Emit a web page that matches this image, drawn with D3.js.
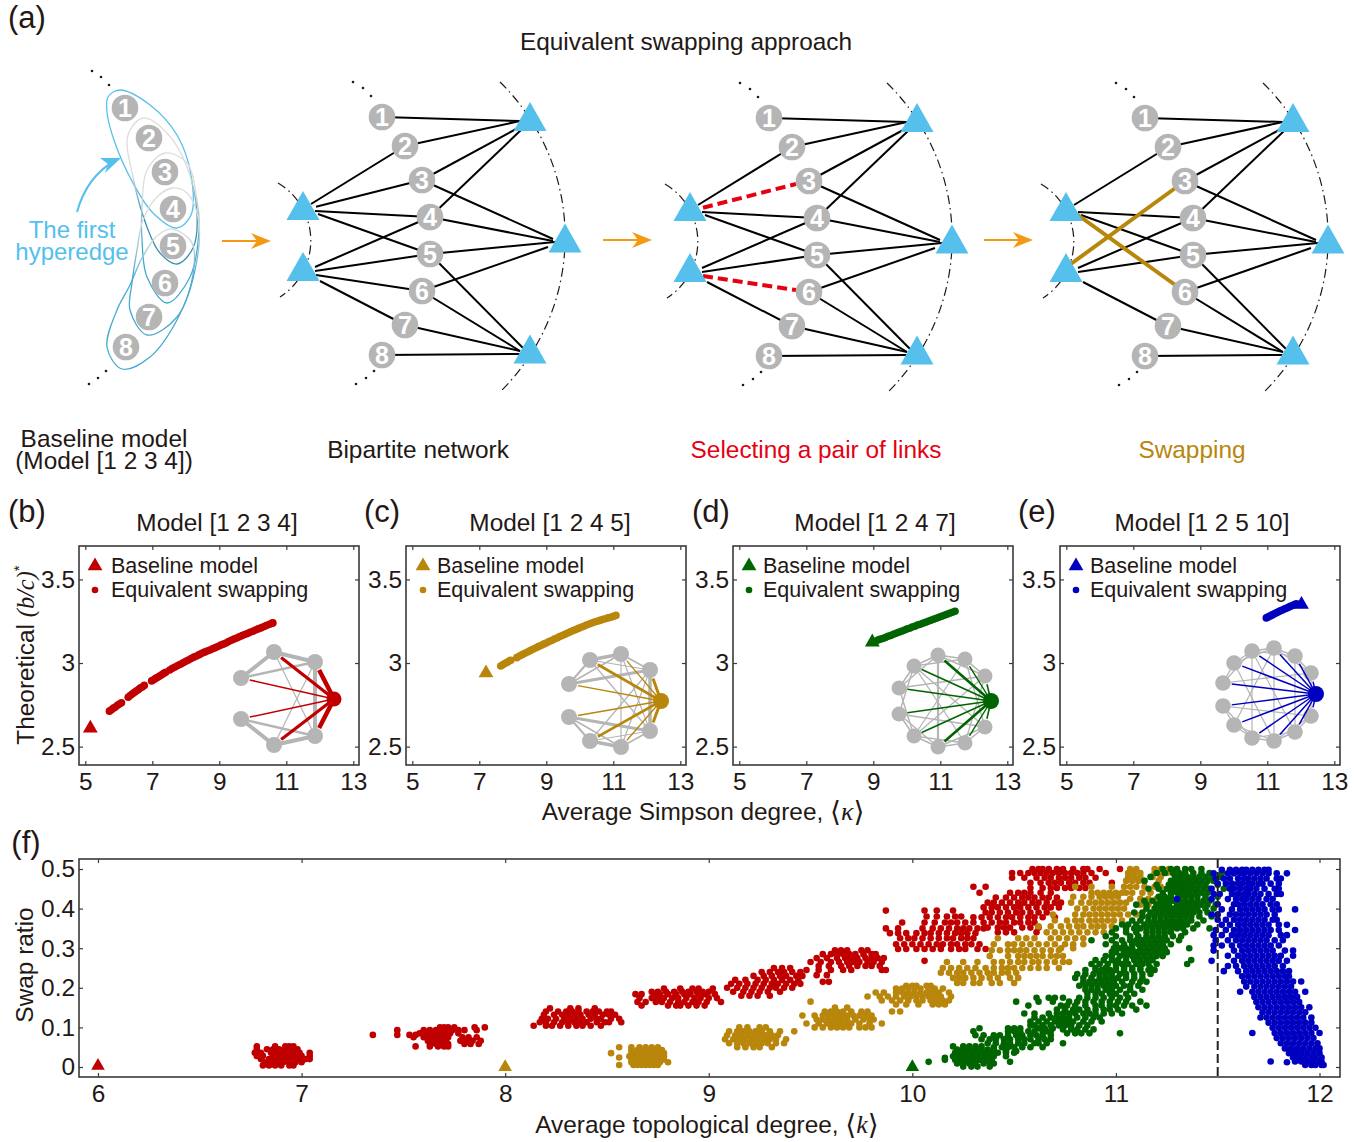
<!DOCTYPE html>
<html><head><meta charset="utf-8"><script src="https://cdn.jsdelivr.net/npm/d3@7"></script>
<style>html,body{margin:0;background:#fff}svg{display:block}text{font-family:"Liberation Sans",Arial,sans-serif;fill:#231815}</style></head><body><div id="c"></div>
<script>
// ---------- data ----------
const red="#c00000",gold="#b8860b",green="#006400",blue="#0000c0",sky="#55c0ec";
const panelTitles=["Model [1 2 3 4]","Model [1 2 4 5]","Model [1 2 4 7]","Model [1 2 5 10]"];
const panelLetters=["(b)","(c)","(d)","(e)"];
const xTicksKappa=[5,7,9,11,13];
const yTicksBc=[2.5,3,3.5];
const xTicksK=[6,7,8,9,10,11,12];
const yTicksSwap=[0,0.1,0.2,0.3,0.4,0.5];
const baselineKappa=[5.15,7.2,8.97,12.02];
const baselineBc=[2.61,2.94,3.125,3.35];
const baselineK=[6,8,10];
const baselineSwap=[0.003,0,0];
const bRed=[[5.72,2.712],[5.78,2.72],[5.84,2.73],[5.9,2.737],[5.96,2.747],[6.02,2.755],[6.08,2.762],[6.28,2.795],[6.34,2.805],[6.4,2.815],[6.46,2.823],[6.52,2.832],[6.58,2.84],[6.64,2.85],[6.7,2.857],[6.76,2.866],[6.98,2.893],[7.04,2.9],[7.1,2.908],[7.16,2.915],[7.22,2.922],[7.28,2.93],[7.34,2.938],[7.4,2.945],[7.52,2.958],[7.6,2.968],[7.68,2.976],[7.76,2.985],[7.84,2.993],[7.92,3.002],[8,3.01],[8.08,3.018],[8.16,3.027],[8.24,3.035],[8.32,3.042],[8.4,3.05],[8.48,3.058],[8.56,3.065],[8.64,3.072],[8.72,3.078],[8.8,3.085],[8.88,3.092],[8.96,3.099],[9.04,3.107],[9.12,3.113],[9.2,3.12],[9.28,3.128],[9.36,3.136],[9.44,3.143],[9.52,3.15],[9.6,3.157],[9.68,3.164],[9.76,3.171],[9.84,3.177],[9.92,3.184],[10,3.19],[10.08,3.197],[10.16,3.204],[10.24,3.21],[10.32,3.217],[10.4,3.224],[10.48,3.23],[10.56,3.237],[10.6,3.24]];
const bGold=[[7.64,2.982],[7.7,2.99],[7.76,2.997],[7.82,3.003],[7.88,3.01],[7.94,3.017],[8.12,3.032],[8.2,3.042],[8.28,3.05],[8.36,3.058],[8.44,3.066],[8.52,3.074],[8.6,3.082],[8.68,3.09],[8.76,3.098],[8.84,3.105],[8.92,3.113],[9,3.12],[9.08,3.128],[9.16,3.135],[9.24,3.143],[9.32,3.15],[9.4,3.158],[9.48,3.165],[9.56,3.172],[9.64,3.18],[9.72,3.187],[9.8,3.194],[9.88,3.2],[9.96,3.207],[10.04,3.214],[10.12,3.22],[10.2,3.227],[10.28,3.233],[10.36,3.239],[10.44,3.245],[10.52,3.25],[10.6,3.255],[10.68,3.26],[10.76,3.265],[10.84,3.27],[10.92,3.274],[11,3.279],[11.08,3.285]];
const bGreen=[[9.14,3.137],[9.2,3.142],[9.28,3.147],[9.36,3.153],[9.44,3.16],[9.52,3.165],[9.6,3.172],[9.68,3.178],[9.76,3.184],[9.84,3.19],[9.92,3.196],[10,3.203],[10.08,3.208],[10.16,3.215],[10.24,3.22],[10.32,3.227],[10.4,3.232],[10.48,3.238],[10.56,3.244],[10.64,3.25],[10.72,3.256],[10.8,3.262],[10.88,3.268],[10.96,3.274],[11.04,3.28],[11.12,3.286],[11.2,3.292],[11.28,3.298],[11.36,3.304],[11.44,3.31]];
const bBlue=[[10.97,3.27],[11.03,3.276],[11.09,3.282],[11.15,3.288],[11.21,3.294],[11.27,3.3],[11.33,3.306],[11.39,3.312],[11.45,3.317],[11.51,3.323],[11.57,3.328],[11.63,3.334],[11.69,3.339],[11.75,3.344],[11.81,3.35],[11.87,3.355]];
const kappaSeries=[bRed,bGold,bGreen,bBlue];
// swap-ratio clouds: each row is one ratio value and the average degrees read at it
const swapRed=[[.052,[6.78,6.87,6.92,6.94,6.96]],[.045,[6.78,6.83,6.86,6.89,6.92,6.95,6.98]],[.036,[6.77,6.8,6.85,6.88,6.91,6.93,6.96,6.99,7.04]],[.028,[6.78,6.81,6.86,6.89,6.92,6.95,6.97,7,7.04]],[.02,[6.8,6.84,6.87,6.9,6.93,6.96,6.99,7.02,7.04]],[.012,[6.82,6.85,6.88,6.91,6.94,6.97,7]],[.004,[6.81,6.84,6.87,6.9,6.94,6.96]],
[.1,[7.68,7.7,7.72,7.75,7.85,7.9]],[.093,[7.47,7.6,7.63,7.66,7.69,7.71,7.74,7.77,7.8,7.86]],[.085,[7.58,7.61,7.64,7.67,7.7,7.73,7.77]],[.081,[7.35,7.47,7.53,7.56]],[.075,[7.55,7.6,7.63,7.66,7.69,7.72,7.79,7.82,7.86]],[.066,[7.62,7.65,7.68,7.71,7.78,7.81,7.84,7.88]],[.058,[7.63,7.66,7.69,7.72,7.8,7.83,7.87]],[.052,[7.56,7.63,7.67,7.7,7.72]],
[.148,[8.22,8.32,8.36,8.44]],[.14,[8.2,8.26,8.3,8.33,8.36,8.4,8.43,8.46,8.5,8.52]],[.132,[8.19,8.24,8.28,8.31,8.34,8.37,8.41,8.44,8.48,8.51,8.54]],[.122,[8.18,8.21,8.25,8.29,8.32,8.35,8.38,8.42,8.45,8.47,8.52,8.56]],[.113,[8.17,8.2,8.24,8.28,8.31,8.34,8.37,8.4,8.45,8.49,8.51,8.57]],[.104,[8.14,8.2,8.23,8.27,8.31,8.35,8.38,8.42,8.47]],
[.198,[8.78,8.86,8.92,8.95,9.02]],[.19,[8.72,8.75,8.79,8.83,8.87,8.9,8.94,8.97,9]],[.184,[8.64,8.67,8.73,8.76,8.8,8.84,8.88,8.91,8.95,8.98,9.03]],[.174,[8.66,8.72,8.75,8.78,8.82,8.85,8.89,8.93,8.96,9,9.04]],[.164,[8.65,8.69,8.74,8.77,8.81,8.85,8.88,8.92,8.95,8.99,9.06]],[.155,[8.67,8.8,8.84,8.86,8.9,8.94,8.98]],
[.25,[9.32,9.36,9.4]],[.24,[9.26,9.3,9.34,9.37,9.41,9.45]],[.23,[9.22,9.27,9.31,9.35,9.38,9.43,9.46]],[.22,[9.13,9.18,9.24,9.28,9.32,9.36,9.4,9.44]],[.21,[9.11,9.15,9.19,9.23,9.27,9.31,9.34,9.38,9.42,9.45]],[.2,[9.09,9.14,9.18,9.22,9.26,9.3,9.33,9.37,9.41]],[.19,[9.12,9.17,9.21,9.25,9.29,9.35]],[.18,[9.16,9.2,9.24,9.3]],
[.295,[9.62,9.65,9.68,9.75,9.78]],[.285,[9.56,9.6,9.63,9.66,9.69,9.72,9.76,9.8,9.82]],[.275,[9.53,9.58,9.63,9.67,9.7,9.73,9.77,9.8,9.83,9.86]],[.265,[9.5,9.55,9.6,9.64,9.68,9.71,9.74,9.78,9.81,9.85]],[.255,[9.54,9.59,9.65,9.69,9.73,9.77,9.8,9.84]],[.245,[9.48,9.54,9.6,9.66,9.7,9.85,9.87]],[.232,[9.45,9.53,9.58]],[.215,[9.56,9.59]],
[.395,[9.87,10.06,10.12,10.2]],[.38,[10.07,10.12,10.17,10.21,10.24]],[.365,[9.95,10.06,10.11,10.16,10.19,10.22,10.26,10.3]],[.35,[9.87,9.93,10.05,10.1,10.14,10.18,10.22,10.25,10.28,10.32,10.35]],[.338,[9.89,9.93,9.97,10.02,10.06,10.09,10.13,10.17,10.21,10.24,10.27,10.31]],[.325,[9.94,9.98,10.01,10.05,10.09,10.13,10.17,10.2,10.24,10.27,10.3]],[.31,[9.92,9.96,10,10.04,10.08,10.12,10.15,10.19,10.22,10.26,10.29,10.33]],[.298,[9.93,9.97,10.02,10.06,10.1,10.14,10.19,10.23,10.26,10.32,10.36]],[.268,[10.06]],
[.455,[10.3,10.36]],[.44,[10.33,10.48,10.52,10.55,10.58,10.63,10.68]],[.428,[10.41,10.46,10.5,10.54,10.57,10.6,10.64,10.67,10.71]],[.415,[10.37,10.4,10.44,10.48,10.52,10.55,10.59,10.62,10.66,10.7,10.73]],[.403,[10.35,10.39,10.42,10.46,10.5,10.53,10.57,10.61,10.65,10.68,10.72]],[.39,[10.36,10.39,10.43,10.47,10.51,10.54,10.58,10.62,10.66]],[.378,[10.3,10.34,10.38,10.42,10.46,10.49,10.53,10.57,10.6,10.64,10.7]],[.365,[10.35,10.39,10.43,10.46,10.5,10.53,10.57,10.6]],[.352,[10.37,10.42,10.45,10.48,10.54,10.58,10.62]],[.34,[10.42,10.46,10.5,10.61]],
[.5,[10.59,10.62,10.64,10.67,10.71,10.74,10.79,10.84,10.86,10.92,11.02]],[.49,[10.49,10.53,10.57,10.6,10.63,10.66,10.69,10.72,10.75,10.78,10.81,10.84,10.88,10.95]],[.478,[10.49,10.55,10.61,10.65,10.68,10.72,10.75,10.78,10.82,10.85,10.9]],[.465,[10.58,10.63,10.67,10.7,10.73,10.77,10.8,10.84,10.87,10.98]],[.452,[10.58,10.64,10.68,10.71,10.75,10.78,10.82,10.85]]];
const swapGold=[[.05,[8.56,8.62,8.66,8.69,8.72,8.75]],[.043,[8.62,8.65,8.67,8.69,8.71,8.73,8.75,8.77]],[.035,[8.52,8.62,8.64,8.66,8.68,8.7,8.72,8.74,8.76,8.78]],[.027,[8.61,8.63,8.65,8.67,8.69,8.71,8.73,8.75,8.77,8.78]],[.024,[8.56]],[.019,[8.62,8.64,8.66,8.68,8.7,8.72,8.74,8.76,8.78]],[.012,[8.62,8.64,8.66,8.68,8.7,8.72,8.74,8.76,8.8]],[.005,[8.56,8.63,8.65,8.67,8.69,8.71,8.73,8.75]],
[.1,[9.15,9.19,9.25,9.28]],[.09,[9.1,9.14,9.17,9.2,9.23,9.26,9.3,9.35,9.42]],[.08,[9.09,9.13,9.16,9.19,9.22,9.25,9.28,9.31,9.34]],[.07,[9.08,9.12,9.15,9.18,9.21,9.24,9.27,9.3,9.33,9.38]],[.06,[9.1,9.14,9.17,9.2,9.23,9.26,9.29,9.33,9.37]],[.05,[9.14,9.18,9.22,9.25,9.31]],
[.165,[9.5]],[.15,[9.62,9.68]],[.14,[9.57,9.6,9.63,9.66,9.7,9.75,9.78]],[.13,[9.46,9.52,9.56,9.59,9.62,9.65,9.68,9.71,9.74,9.77,9.8]],[.12,[9.53,9.56,9.59,9.62,9.65,9.68,9.72,9.76,9.79,9.81]],[.11,[9.48,9.54,9.58,9.61,9.64,9.67,9.7,9.74,9.79,9.85]],[.1,[9.52,9.56,9.6,9.63,9.66,9.69,9.74,9.77,9.8]],
[.205,[9.97,10,10.02,10.07,10.09]],[.198,[9.92,9.95,9.98,10.01,10.04,10.08,10.11,10.15]],[.188,[9.82,9.86,9.92,9.95,9.98,10.01,10.04,10.07,10.1,10.13,10.18]],[.178,[9.78,9.84,9.88,9.92,9.96,9.99,10.02,10.05,10.08,10.11,10.14,10.19]],[.168,[9.85,9.9,9.94,9.98,10.02,10.05,10.09,10.12,10.15,10.18]],[.158,[9.92,9.97,10.03,10.1,10.13,10.16]],[.14,[9.9,9.94]],
[.325,[10.42,10.52,10.56,10.6]],[.31,[10.4,10.47,10.5,10.54,10.58,10.62,10.66]],[.295,[10.39,10.43,10.47,10.5,10.53,10.56,10.6,10.64,10.68,10.72]],[.28,[10.38,10.47,10.52,10.55,10.58,10.61,10.64,10.68,10.71,10.74]],[.265,[10.17,10.25,10.32,10.4,10.44,10.48,10.52,10.55,10.59,10.62,10.66,10.7,10.74,10.77]],[.25,[10.15,10.19,10.23,10.27,10.31,10.36,10.4,10.44,10.47,10.5,10.54,10.58,10.62,10.66,10.72]],[.238,[10.14,10.18,10.22,10.25,10.29,10.33,10.37,10.4,10.44,10.47,10.51]],[.225,[10.2,10.23,10.26,10.3,10.34,10.38,10.42,10.48,10.52]],[.212,[10.22,10.25,10.3,10.33,10.39,10.43,10.5]],
[.455,[10.8,10.88,10.98]],[.44,[10.88,10.91,10.94,10.97,11,11.03]],[.43,[10.79,10.84,10.88,10.92,10.95,10.98,11.01]],[.415,[10.78,10.83,10.87,10.9,10.93,10.96,10.99,11.02,11.05]],[.4,[10.81,10.85,10.89,10.92,10.95,10.98,11.01,11.04]],[.385,[10.69,10.8,10.84,10.87,10.9,10.93,10.96,10.99,11.02,11.06,11.1]],[.37,[10.7,10.76,10.8,10.83,10.87,10.9,10.93,10.96,10.99,11.03]],[.355,[10.62,10.68,10.73,10.77,10.81,10.84,10.88,10.91,10.94,10.98]],[.34,[10.66,10.7,10.74,10.78,10.82,10.86,10.9,10.94]],[.325,[10.68,10.72,10.76,10.8,10.84]],[.31,[10.7,10.75,10.79,10.84]],[.3,[10.73,10.79]],
[.5,[11.07,11.1,11.19,11.22,11.26,11.3]],[.49,[11.06,11.09,11.12,11.19,11.22,11.25,11.29]],[.48,[11.06,11.09,11.12,11.18,11.22]],[.47,[11.05,11.08,11.11,11.14,11.21]],[.455,[11.04,11.07,11.1,11.14,11.19,11.22]],[.44,[11.05,11.08,11.13,11.17]],[.425,[11.07,11.12,11.16,11.2]],[.41,[11.12,11.16,11.2,11.25]]];
const swapGreen=[[.013,[10.08,10.48]],[.023,[10.16]],[.052,[10.2,10.25,10.28,10.31,10.34]],[.044,[10.22,10.25,10.28,10.31,10.34,10.37,10.4]],[.036,[10.21,10.24,10.27,10.3,10.33,10.36,10.39,10.42,10.46,10.5]],[.027,[10.2,10.23,10.26,10.29,10.32,10.35,10.38,10.4,10.46]],[.018,[10.16,10.21,10.24,10.27,10.3,10.33,10.36,10.39]],[.009,[10.22,10.25,10.28,10.31,10.35,10.38,10.4]],[.001,[10.25,10.29,10.32,10.38]],
[.098,[10.33,10.47,10.5,10.53,10.62,10.65,10.69]],[.09,[10.3,10.47,10.5,10.53,10.57,10.6,10.64,10.66,10.68]],[.08,[10.31,10.35,10.4,10.43,10.47,10.51,10.54,10.58,10.61,10.64,10.68]],[.07,[10.34,10.38,10.41,10.45,10.48,10.52,10.55,10.58,10.62,10.65,10.68]],[.06,[10.37,10.41,10.45,10.48,10.52,10.55,10.6,10.62,10.66,10.74]],[.05,[10.4,10.44,10.47,10.5,10.54,10.58,10.64]],[.04,[10.46,10.51]],
[.175,[10.61,10.67,10.7,10.74,10.82,10.86,10.9,10.94,10.98,11.02,11.06]],[.165,[10.51,10.62,10.69,10.77,10.81,10.85,10.89,10.93,10.97,11.01,11.05,11.12]],[.155,[10.57,10.73,10.76,10.8,10.85,10.9,10.93,10.97,11,11.04,11.08,11.15]],[.145,[10.71,10.75,10.79,10.82,10.86,10.9,10.94,10.97,11.01,11.1]],[.135,[10.55,10.6,10.67,10.71,10.74,10.77,10.8,10.84,10.87,10.9,10.94,10.98,11.03]],[.125,[10.6,10.64,10.68,10.71,10.74,10.77,10.81,10.85,10.89,10.92]],[.115,[10.58,10.62,10.66,10.7,10.73,10.76,10.79,10.84,10.88,10.93]],[.105,[10.58,10.6,10.64,10.68,10.72,10.75,10.78,10.82,10.86]],[.095,[10.74,10.78,10.81,10.85,10.89]],[.085,[10.76,10.8,10.83,10.87,11.02]],
[.245,[10.85,10.9,10.93,10.97,11,11.04,11.08,11.12,11.16,11.19]],[.235,[10.81,10.85,10.89,10.92,10.95,10.98,11.02,11.05,11.09,11.13,11.17]],[.225,[10.8,10.84,10.88,10.92,10.95,10.98,11.01,11.05,11.09,11.13]],[.215,[10.84,10.87,10.9,10.93,10.96,10.99,11.03,11.08,11.12,11.15]],[.205,[10.82,10.85,10.88,10.91,10.94,10.97,11,11.04,11.07,11.11]],[.195,[10.85,10.88,10.91,10.95,10.98,11.02,11.07,11.13]],[.185,[10.86,10.9,10.93,10.97,11,11.05,11.09]],
[.34,[10.98,11.05,11.1,11.15,11.18,11.21,11.24,11.27,11.34]],[.33,[10.95,11,11.07,11.11,11.15,11.18,11.21,11.24,11.28,11.32]],[.32,[10.88,10.98,11.03,11.07,11.1,11.13,11.16,11.19,11.22,11.25,11.31]],[.31,[10.95,11,11.04,11.08,11.11,11.14,11.17,11.2,11.23,11.27]],[.3,[10.99,11.02,11.05,11.08,11.12,11.15,11.18,11.21,11.24,11.36]],[.29,[10.98,11,11.04,11.07,11.1,11.13,11.16,11.19,11.22,11.25]],[.28,[10.95,10.98,11.02,11.05,11.08,11.11,11.14,11.17,11.2,11.23]],[.27,[10.9,10.94,10.98,11.01,11.05,11.09,11.12,11.15,11.18,11.37]],[.26,[10.88,10.92,10.96,11,11.03,11.06,11.1,11.13,11.16,11.2,11.35]],[.25,[10.9,10.95,11,11.04,11.08,11.12,11.17]],
[.5,[11.23,11.27,11.3,11.34,11.37,11.42]],[.49,[11.2,11.24,11.28,11.31,11.34,11.38,11.42,11.46,11.52]],[.48,[11.17,11.29,11.32,11.35,11.38,11.41,11.44,11.47,11.51]],[.47,[11.14,11.27,11.3,11.33,11.36,11.39,11.42,11.45,11.48]],[.46,[11.2,11.26,11.29,11.32,11.35,11.38,11.41,11.44,11.5]],[.45,[11.16,11.21,11.25,11.28,11.31,11.34,11.37,11.4,11.43,11.46,11.53]],[.44,[11.23,11.27,11.3,11.33,11.36,11.39,11.42,11.45]],[.43,[11.21,11.24,11.27,11.31,11.34,11.37,11.4,11.44,11.5]],[.42,[11.14,11.18,11.22,11.25,11.28,11.31,11.34,11.37,11.4,11.43,11.46]],[.41,[11.1,11.15,11.2,11.23,11.26,11.3,11.33,11.36,11.39,11.42,11.45,11.49]],[.4,[11.15,11.19,11.22,11.25,11.28,11.31,11.34,11.37,11.4,11.44,11.48]],[.39,[11.09,11.13,11.17,11.2,11.23,11.26,11.29,11.32,11.35,11.38,11.41,11.45]],[.38,[11.13,11.16,11.19,11.22,11.25,11.28,11.31,11.34,11.37,11.41,11.47]],[.37,[11.08,11.12,11.16,11.19,11.22,11.25,11.28,11.31,11.34,11.37,11.43]],[.36,[11.03,11.06,11.1,11.14,11.17,11.2,11.23,11.26,11.29,11.32,11.35,11.4]],[.35,[11,11.05,11.09,11.12,11.15,11.18,11.21,11.24,11.27,11.3,11.33,11.38,11.46]]];
const swapBlue=[[.498,[11.52,11.56,11.59,11.62,11.64,11.67,11.7,11.73,11.75]],[.489,[11.48,11.55,11.58,11.61,11.63,11.66,11.69,11.72,11.75,11.79,11.84]],[.476,[11.49,11.53,11.56,11.6,11.63,11.65,11.68,11.71,11.74,11.79,11.81]],[.463,[11.5,11.54,11.57,11.6,11.62,11.65,11.67,11.7,11.72,11.76,11.8]],[.45,[11.47,11.56,11.58,11.61,11.64,11.66,11.69,11.73,11.78,11.8]],[.437,[11.48,11.51,11.57,11.6,11.63,11.65,11.68,11.71,11.75,11.79,11.81]],[.424,[11.3,11.47,11.55,11.59,11.62,11.64,11.67,11.7,11.74,11.77]],[.411,[11.5,11.58,11.6,11.63,11.66,11.69,11.72,11.76,11.79]],[.398,[11.52,11.57,11.61,11.64,11.67,11.7,11.73,11.77,11.8,11.88]],[.385,[11.47,11.5,11.56,11.59,11.62,11.65,11.68,11.71,11.74,11.78]],[.372,[11.5,11.54,11.58,11.61,11.64,11.67,11.7,11.73,11.77,11.79]],[.359,[11.52,11.56,11.6,11.63,11.66,11.69,11.72,11.75,11.8,11.84]],[.346,[11.49,11.54,11.58,11.61,11.64,11.67,11.7,11.73,11.76,11.8,11.88]],[.333,[11.48,11.52,11.57,11.6,11.63,11.66,11.69,11.72,11.75,11.81,11.84]],[.32,[11.49,11.55,11.59,11.62,11.65,11.68,11.71,11.74,11.78,11.82]],[.307,[11.48,11.52,11.57,11.61,11.64,11.67,11.7,11.73,11.76,11.8]],[.294,[11.48,11.58,11.62,11.65,11.68,11.71,11.74,11.77,11.83,11.87]],[.281,[11.55,11.6,11.63,11.66,11.69,11.72,11.75,11.78,11.81,11.87]],[.268,[11.47,11.58,11.62,11.65,11.68,11.71,11.74,11.77,11.8,11.84]],[.255,[11.55,11.59,11.63,11.66,11.69,11.72,11.75,11.78,11.82]],[.242,[11.53,11.6,11.64,11.67,11.7,11.73,11.76,11.79,11.82,11.85]],[.229,[11.62,11.65,11.68,11.71,11.74,11.77,11.8,11.83,11.85]],[.216,[11.63,11.66,11.69,11.72,11.75,11.78,11.81,11.84,11.87,11.91]],[.203,[11.64,11.68,11.71,11.74,11.77,11.8,11.83,11.86]],[.19,[11.61,11.67,11.7,11.73,11.76,11.79,11.82,11.85,11.88,11.93]],[.177,[11.68,11.71,11.74,11.77,11.8,11.83,11.86,11.89]],[.164,[11.69,11.72,11.75,11.78,11.81,11.84,11.87,11.9]],[.151,[11.7,11.73,11.76,11.79,11.82,11.85,11.88,11.91,11.95]],[.138,[11.72,11.75,11.78,11.81,11.84,11.87,11.9,11.93]],[.125,[11.71,11.74,11.77,11.8,11.83,11.86,11.89,11.92,11.96]],[.112,[11.75,11.78,11.81,11.84,11.87,11.9,11.93,11.96]],[.099,[11.77,11.8,11.83,11.86,11.89,11.92,11.95,11.98]],[.086,[11.67,11.78,11.81,11.84,11.87,11.9,11.93,11.96,12]],[.073,[11.79,11.82,11.85,11.88,11.91,11.94,11.97]],[.06,[11.81,11.84,11.87,11.9,11.93,11.96,11.99]],[.047,[11.83,11.86,11.89,11.92,11.95,11.98,12]],[.035,[11.85,11.88,11.91,11.94,11.97,12]],[.024,[11.87,11.9,11.93,11.96,11.98,12.01]],[.014,[11.76,11.88,11.91,11.94,11.97,12,12.01]],[.005,[11.93,11.96,11.98,12.01,12.02]],[.012,[11.84]]];
const swapSeries=[swapRed,swapGold,swapGreen,swapBlue];
const dashedK=11.5;
// schematic: node labels and who is joined to whom (triangle index, member node numbers)
const nodeLabels=[1,2,3,4,5,6,7,8];
const hyperedges=[[0,[1,2,3,4]],[1,[2,3,4,5]],[2,[4,5,6,7]],[3,[3,4,5,6]],[4,[5,6,7,8]]];

// ---------- layout (pixels of the page) ----------
const W=1372,H=1142;
const svg=d3.select("#c").append("svg").attr("width",W).attr("height",H).attr("viewBox",[0,0,W,H]);
const ink="#231815",frameCol="#3a3a3a",fs=24.4,letterSize=31;
const txt=(x,y,s,o={})=>{const t=svg.append("text").attr("x",x).attr("y",y-1).attr("text-anchor",o.a||"middle").attr("dominant-baseline","central").style("font-size",(o.size||fs)+"px").text(s);if(o.fill)t.style("fill",o.fill);return t;};

// ----- panel (a) -----
txt(27,18,"(a)",{size:letterSize});
txt(686,42,"Equivalent swapping approach");
[["Baseline model",104,439,ink],["(Model [1 2 3 4])",104,461,ink],["Bipartite network",418,450,ink],["Selecting a pair of links",816,450,"#e60012"],["Swapping",1192,450,gold]].forEach(d=>txt(d[1],d[2],d[0],{fill:d[3]}));
txt(72,230,"The first",{fill:sky,size:24});txt(72,252,"hyperedge",{fill:sky,size:24});

const nodeXY=[[769,118],[792,147],[809,181],[817,218],[817,255],[809,292],[792,326],[769,356]];
const triXY=[[917,117.5],[690,206.5],[690,267.5],[952,239],[917,350]];
// where each link meets its triangle, keyed "triangle-node"
const linkEnd={"0-0":[907,122],"0-1":[907,122],"0-2":[905,129],"0-3":[908,131],"1-1":[698,205],"1-2":[703,207.7],"1-3":[702,212],"1-4":[705,215],"2-3":[702,268],"2-4":[702,272],"2-5":[703,276],"2-6":[707,282],"3-2":[940,240],"3-3":[940,242],"3-4":[942,243],"3-5":[935,248],"4-4":[910,349],"4-5":[907,352],"4-6":[907,352],"4-7":[907,355]};
const triPath=(w,h)=>`M0,${-h/2}L${w/2},${h/2}L${-w/2},${h/2}Z`;
function drawNodes(g,pts,r,size){
  const n=g.selectAll("g.n").data(nodeLabels).join("g").attr("class","n").attr("transform",(d,i)=>`translate(${pts[i][0]},${pts[i][1]})`);
  n.append("circle").attr("r",r).attr("fill","#b5b5b5");
  n.append("text").attr("text-anchor","middle").attr("dominant-baseline","central").style("font-size",size+"px").style("font-weight","bold").style("fill","#fff").text(d=>d);
}
function dots(g,list){g.selectAll("circle.d").data(list).join("circle").attr("class","d").attr("cx",d=>d[0]).attr("cy",d=>d[1]).attr("r",1.3).attr("fill",ink);}
function network(dx,dy,mode){
  const g=svg.append("g").attr("transform",`translate(${dx},${dy})`);
  g.append("path").attr("d","M887,83A217,217 0 0 1 887,393").attr("fill","none").attr("stroke",ink).attr("stroke-width",1.2).attr("stroke-dasharray","9,4,1.5,4");
  g.append("path").attr("d","M665,184A67,67 0 0 1 667,298").attr("fill","none").attr("stroke",ink).attr("stroke-width",1.2).attr("stroke-dasharray","9,4,1.5,4");
  dots(g,[[740,83],[750,89],[758,97],[743,385],[753,379],[761,372]]);
  const links=[];
  hyperedges.forEach(([t,ms])=>ms.forEach(m=>links.push([t,m-1])));
  const special=(t,n)=>(t===1&&n===2)||(t===2&&n===5);
  links.filter(l=>!(mode!=="plain"&&special(l[0],l[1]))).forEach(l=>{
    const e=linkEnd[l[0]+"-"+l[1]];
    g.append("line").attr("x1",e[0]).attr("y1",e[1]).attr("x2",nodeXY[l[1]][0]).attr("y2",nodeXY[l[1]][1]).attr("stroke","#000").attr("stroke-width",2);
  });
  if(mode==="red") [[1,2],[2,5]].forEach(l=>{const e=linkEnd[l[0]+"-"+l[1]];g.append("line").attr("x1",e[0]).attr("y1",e[1]).attr("x2",nodeXY[l[1]][0]-13).attr("y2",nodeXY[l[1]][1]+(l[0]===1?3:-2)).attr("stroke","#e60012").attr("stroke-width",4).attr("stroke-dasharray","10,5");});
  if(mode==="gold") [[1,5],[2,2]].forEach(l=>g.append("line").attr("x1",triXY[l[0]][0]).attr("y1",triXY[l[0]][1]).attr("x2",nodeXY[l[1]][0]).attr("y2",nodeXY[l[1]][1]).attr("stroke",gold).attr("stroke-width",4));
  drawNodes(g,nodeXY,13.3,25);
  triXY.forEach(t=>g.append("path").attr("d",triPath(33,29)).attr("transform",`translate(${t[0]},${t[1]})`).attr("fill",sky));
}
network(-387,-1,"plain");
network(0,0,"red");
network(376,0,"gold");
// orange arrows
[[222,241],[603,240],[984,240]].forEach(p=>{
  const g=svg.append("g").attr("transform",`translate(${p[0]},${p[1]})`);
  g.append("line").attr("x1",0).attr("x2",42).attr("stroke","#f39a14").attr("stroke-width",2);
  g.append("path").attr("d","M49,0L29,-8L35,0L29,8Z").attr("fill","#f39a14");
});
// hypergraph
const hg=svg.append("g");
const defs=svg.append("defs");
const closed=d3.line().curve(d3.curveCatmullRomClosed.alpha(0.5));
const hyperShape=[
 {pts:[[120,90],[108,97],[107,112],[115,143],[133,183],[153,213],[177,228],[191,215],[191,175],[177,135],[150,105]],a:sky,b:sky},
 {pts:[[143,118],[128,135],[133,177],[147,227],[160,253],[177,264],[193,248],[197,213],[187,167],[167,133]],a:"#dcdcdc",b:"#3a8fb0",y1:175,y2:215},
 {pts:[[165,153],[147,170],[142,207],[142,240],[147,277],[167,303],[190,277],[199,230],[197,200],[187,163]],a:"#dcdcdc",b:"#47a9d0",y1:195,y2:245},
 {pts:[[173,188],[157,197],[143,220],[137,250],[132,283],[130,310],[147,335],[177,317],[197,260],[198,217],[187,193]],a:"#dcdcdc",b:"#47a9d0",y1:225,y2:275},
 {pts:[[172,229],[157,236],[142,258],[130,285],[117,310],[107,347],[122,369],[150,357],[178,318],[193,275],[192,243]],a:"#dcdcdc",b:"#47a9d0",y1:235,y2:280}];
hyperShape.forEach((h,i)=>{
  const id="hg"+i;
  const lg=defs.append("linearGradient").attr("id",id).attr("gradientUnits","userSpaceOnUse").attr("x1",0).attr("x2",0).attr("y1",h.y1||0).attr("y2",h.y2||400);
  lg.append("stop").attr("offset",0).attr("stop-color",h.a);lg.append("stop").attr("offset",1).attr("stop-color",h.b);
  hg.append("path").attr("d",closed(h.pts)).attr("fill","none").attr("stroke",`url(#${id})`).attr("stroke-width",1.3);
});
drawNodes(hg,[[125,108],[149,138],[165,172],[173,209],[173,246],[165,283],[149,317],[126,347]],13.3,25);
dots(hg,[[92,71],[101,77],[109,85],[89,384],[98,378],[106,371]]);
hg.append("path").attr("d","M77,212Q87,176 116,160").attr("fill","none").attr("stroke",sky).attr("stroke-width",2);
hg.append("path").attr("d","M121,158L100,158L108,164L105,173Z").attr("fill",sky);

// ----- helpers for the plots -----
function frameAxes(g,x,y,xt,yt,xf,yf,tl){
  const [x0,x1]=x.range(),[y0,y1]=y.range(); // y0 is the bottom edge
  const mk=(ax,tr,lab)=>{
    const a=g.append("g").attr("transform",tr).call(ax);
    a.select(".domain").remove();
    a.selectAll(".tick line").attr("stroke",frameCol).attr("stroke-width",1.2);
    a.selectAll("text").style("font-size",fs+"px");
    if(!lab) a.selectAll("text").remove();
  };
  mk(d3.axisBottom(x).tickValues(xt).tickFormat(xf).tickSize(-tl).tickPadding(8),`translate(0,${y0})`,true);
  mk(d3.axisTop(x).tickValues(xt).tickSize(-tl),`translate(0,${y1})`,false);
  mk(d3.axisLeft(y).tickValues(yt).tickFormat(yf).tickSize(-tl).tickPadding(4),`translate(${x0},0)`,true);
  mk(d3.axisRight(y).tickValues(yt).tickSize(-tl),`translate(${x1},0)`,false);
  g.append("rect").attr("x",x0).attr("y",y1).attr("width",x1-x0).attr("height",y0-y1).attr("fill","none").attr("stroke",frameCol).attr("stroke-width",1.6);
}
const smallTri=d3.symbol().type(d3.symbolTriangle).size(95);

// ----- panels (b)-(e) -----
const colors=[red,gold,green,blue];
const frames=[79,406,733,1060];
const letterX=[27,382,711,1037],titleX=[217,550,875,1202];
const insetNodes=[
 {hub:[334,699],hr:7.5,r:8,n:[[241,678],[274,652],[315,662],[315,736],[274,745],[241,719]],
  gray:[[0,1,4],[1,2,4],[2,3,4],[3,4,4],[4,5,4],[0,2,2.5],[5,3,2.5],[1,3,1.2],[4,2,1.2]],
  col:[[2,4.5],[3,4.5],[1,3.2],[4,3.2],[0,1.5],[5,1.5]]},
 {hub:[661,701],hr:8,r:8,n:[[569,684],[590,660],[621,654],[650,670],[650,731],[621,747],[590,741],[569,717]],
  gray:[[1,2,3.5],[5,6,3.5],[3,4,3.5],[0,3,3],[7,4,3],[0,1,2],[6,7,2],[2,3,1.5],[4,5,1.5],[0,2,1.5],[5,7,1.5],[2,5,1.2],[1,4,1.2],[3,6,1.2],[2,4,1.2],[3,5,1.2],[1,3,1.2],[4,6,1.2]],
  col:[[1,2.6],[6,2.6],[3,3],[4,3],[0,1.4],[7,1.4],[2,1.3],[5,1.3]]},
 {hub:[991,701],hr:8,r:7.5,n:[[899,688],[914,666],[938,655],[965,659],[985,676],[985,727],[965,743],[938,747],[914,736],[899,714]],
  gray:[[0,1,1.6],[1,2,1.6],[2,3,1.6],[3,4,1.6],[5,6,1.6],[6,7,1.6],[7,8,1.6],[8,9,1.6],[0,2,1.4],[1,3,1.4],[2,4,1.4],[5,7,1.4],[6,8,1.4],[7,9,1.4],[2,7,2.2],[0,4,1.4],[9,5,1.4],[1,5,1.3],[8,4,1.3],[3,8,1.3],[6,1,1.3],[3,5,1.3],[4,6,1.3],[0,8,1.4],[9,1,1.4]],
  col:[[2,2.6],[7,2.6],[1,1.6],[8,1.6],[0,1.6],[9,1.6],[3,1.4],[6,1.4],[4,1.6],[5,1.6]]},
 {hub:[1316,694],hr:8,r:7.8,n:[[1223,683],[1234,663],[1252,651],[1274,648],[1295,656],[1311,673],[1311,716],[1295,732],[1274,741],[1252,738],[1234,725],[1223,706]],
  gray:[[0,1,1.4],[1,2,1.4],[2,3,1.4],[3,4,1.4],[4,5,1.4],[6,7,1.4],[7,8,1.4],[8,9,1.4],[9,10,1.4],[10,11,1.4],[0,2,1.2],[1,3,1.2],[2,4,1.2],[3,5,1.2],[11,9,1.2],[10,8,1.2],[9,7,1.2],[8,6,1.2],[0,5,1.2],[11,6,1.2],[1,8,1.2],[2,9,1.2],[3,8,1.2],[4,7,1.2],[2,7,1.2],[3,10,1.2],[5,6,1.2]],
  col:[[0,1.5],[1,1.5],[2,1.5],[3,1.5],[4,1.5],[5,1.5],[6,1.5],[7,1.5],[8,1.5],[9,1.5],[10,1.5],[11,1.5]]}];
kappaSeries.forEach((pts,i)=>{
  const fx=frames[i],g=svg.append("g"),c=colors[i];
  const x=d3.scaleLinear().domain([5-6.3/33.5,13+5.7/33.5]).range([fx,fx+280]);
  const y=d3.scaleLinear().domain([2.39,3.7]).range([765,546]);
  frameAxes(g,x,y,xTicksKappa,yTicksBc,d=>d,d=>d,4);
  txt(letterX[i],512,panelLetters[i],{size:letterSize});
  txt(titleX[i],523,panelTitles[i]);
  // inset
  const net=insetNodes[i];
  net.gray.forEach(e=>g.append("line").attr("x1",net.n[e[0]][0]).attr("y1",net.n[e[0]][1]).attr("x2",net.n[e[1]][0]).attr("y2",net.n[e[1]][1]).attr("stroke","#b5b5b5").attr("stroke-width",e[2]));
  net.n.forEach(p=>g.append("circle").attr("cx",p[0]).attr("cy",p[1]).attr("r",net.r).attr("fill","#b5b5b5"));
  net.col.forEach(e=>{
    const p=net.n[e[0]],h=net.hub,dx=p[0]-h[0],dy=p[1]-h[1],l=Math.hypot(dx,dy),k=(l-net.r-1)/l;
    g.append("line").attr("x1",h[0]).attr("y1",h[1]).attr("x2",h[0]+dx*k).attr("y2",h[1]+dy*k).attr("stroke",c).attr("stroke-width",e[1]);
  });
  g.append("circle").attr("cx",net.hub[0]).attr("cy",net.hub[1]).attr("r",net.hr).attr("fill",c);
  // series
  g.selectAll("circle.p").data(pts).join("circle").attr("class","p").attr("cx",d=>x(d[0])).attr("cy",d=>y(d[1])).attr("r",3.8).attr("fill",c);
  g.append("path").attr("d",smallTri()).attr("transform",`translate(${x(baselineKappa[i])},${y(baselineBc[i])})`).attr("fill",c);
  // legend
  const lx=[95,423,749,1076][i],tx=[111,437,763,1090][i];
  g.append("path").attr("d",smallTri()).attr("transform",`translate(${lx},${566})`).attr("fill",c);
  g.append("circle").attr("cx",lx).attr("cy",590).attr("r",3.3).attr("fill",c);
  txt(tx,567,"Baseline model",{a:"start",size:21.5});
  txt(tx,591,"Equivalent swapping",{a:"start",size:21.5});
});
// y label (b)
const yl=svg.append("text").attr("transform","translate(25,655) rotate(-90)").attr("text-anchor","middle").attr("dominant-baseline","central").style("font-size",fs+"px");
yl.append("tspan").text("Theoretical ");
yl.append("tspan").style("font-family","'Liberation Serif',serif").style("font-style","italic").text("(b/c)");
yl.append("tspan").attr("dy",-7).style("font-size","15px").text("*");
const mathLabel=(cx,cy,s,sym)=>{
  const t=svg.append("text").attr("x",cx).attr("y",cy-1).attr("text-anchor","middle").attr("dominant-baseline","central").style("font-size",fs+"px");
  t.append("tspan").text(s+" ");
  t.append("tspan").style("font-family","'DejaVu Serif',serif").style("font-size","28px").text("\u27E8");
  t.append("tspan").style("font-family","'Liberation Serif',serif").style("font-style","italic").style("font-size","26px").text(sym);
  t.append("tspan").style("font-family","'DejaVu Serif',serif").style("font-size","28px").text("\u27E9");
};
mathLabel(703,812,"Average Simpson degree,","\u03BA");

// ----- panel (f) -----
{
  const g=svg.append("g");
  const x=d3.scaleLinear().domain([6-19/203.6,12+20.5/203.6]).range([79,1340]);
  const y=d3.scaleLinear().domain([-10/396,0.5+10/396]).range([1077,859]);
  frameAxes(g,x,y,xTicksK,yTicksSwap,d=>d,d=>d,4);
  txt(26,843,"(f)",{size:letterSize});
  svg.append("text").attr("transform","translate(24,965) rotate(-90)").attr("text-anchor","middle").attr("dominant-baseline","central").style("font-size",fs+"px").text("Swap ratio");
  swapSeries.forEach((rows,i)=>{
    const pts=rows.flatMap(([v,ks])=>ks.map(k=>[k,v]));
    g.append("g").selectAll("circle").data(pts).join("circle").attr("cx",d=>x(d[0])).attr("cy",d=>y(d[1])).attr("r",3.3).attr("fill",colors[i]);
  });
  baselineK.forEach((k,i)=>g.append("path").attr("d",d3.symbol().type(d3.symbolTriangle).size(80)()).attr("transform",`translate(${x(k)},${y(baselineSwap[i])})`).attr("fill",colors[i]));
  g.append("line").attr("x1",x(dashedK)).attr("x2",x(dashedK)).attr("y1",859).attr("y2",1077).attr("stroke","#222").attr("stroke-width",2).attr("stroke-dasharray","9,4");
  mathLabel(707,1125,"Average topological degree,","k");
}
</script></body></html>
